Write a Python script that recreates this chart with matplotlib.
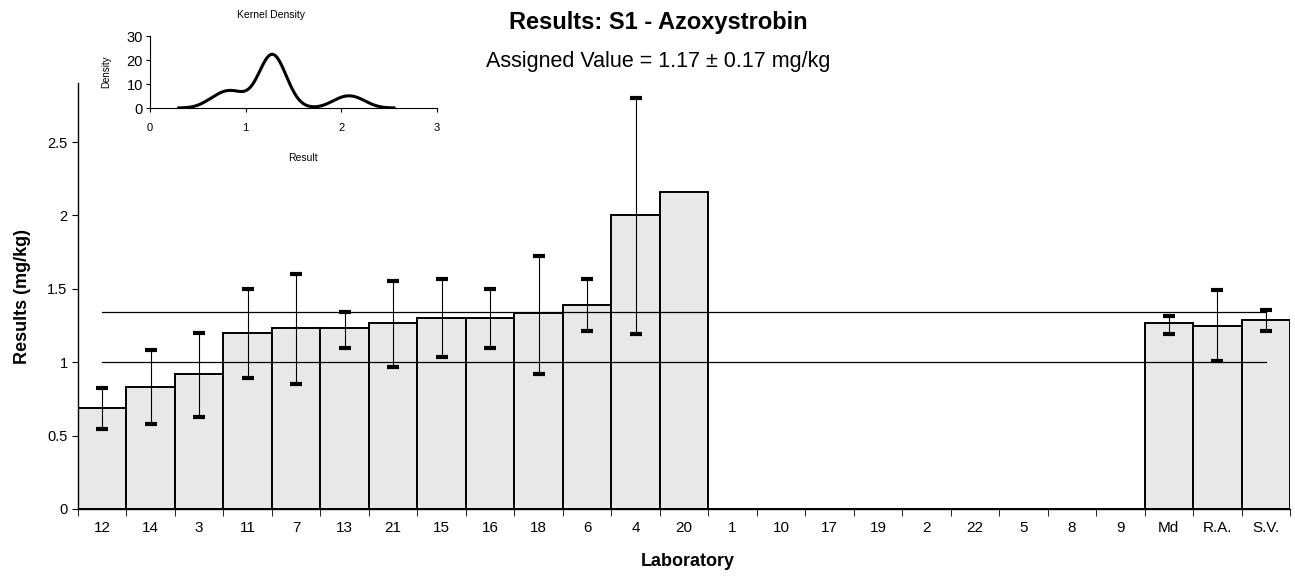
import numpy as np
import matplotlib.pyplot as plt

plt.rcParams["font.family"] = ["Liberation Sans", "DejaVu Sans"]

# ---- Data ----
labs = ["12", "14", "3", "11", "7", "13", "21", "15", "16", "18", "6", "4", "20",
        "1", "10", "17", "19", "2", "22", "5", "8", "9", "Md", "R.A.", "S.V."]
results = [0.69, 0.83, 0.92, 1.20, 1.23, 1.23, 1.265, 1.30, 1.30, 1.335, 1.39, 2.00, 2.16,
           np.nan, np.nan, np.nan, np.nan, np.nan, np.nan, np.nan, np.nan, np.nan,
           1.265, 1.25, 1.29]
err_low = [0.545, 0.58, 0.63, 0.895, 0.85, 1.10, 0.965, 1.035, 1.095, 0.92, 1.21, 1.19, np.nan,
           np.nan, np.nan, np.nan, np.nan, np.nan, np.nan, np.nan, np.nan, np.nan,
           1.195, 1.005, 1.21]
err_high = [0.825, 1.085, 1.20, 1.50, 1.60, 1.34, 1.55, 1.565, 1.50, 1.725, 1.565, 2.80, np.nan,
            np.nan, np.nan, np.nan, np.nan, np.nan, np.nan, np.nan, np.nan, np.nan,
            1.315, 1.49, 1.355]

assigned = 1.17
uncertainty = 0.17
n_labs = 13        # reported lab results used for the density estimate
bandwidth = 0.13   # kernel width for the density inset

fig = plt.figure(figsize=(12.95, 5.77), dpi=100)
ax = fig.add_axes([78 / 1295, 1 - 509 / 577, 1212 / 1295, 2.9 * 146.8 / 577])

x = np.arange(len(labs))
vals = np.array(results, dtype=float)
ax.bar(x, np.nan_to_num(vals), width=1.0, color="#e8e8e8", edgecolor="black",
       linewidth=1.4, zorder=2)

lo = np.array(err_low, dtype=float)
hi = np.array(err_high, dtype=float)
mask = ~np.isnan(lo)
ax.errorbar(x[mask], vals[mask], yerr=[vals[mask] - lo[mask], hi[mask] - vals[mask]],
            fmt="none", ecolor="black", elinewidth=0.8, capsize=4, capthick=3, zorder=4)

# assigned value +/- uncertainty limits
for level in (assigned - uncertainty, assigned + uncertainty):
    ax.plot([x[0], x[-1]], [level, level], color="black", linewidth=0.9, zorder=3)

ax.set_xlim(-0.5, len(labs) - 0.5)
ax.set_ylim(0, 2.9)
ax.set_yticks([0, 0.5, 1, 1.5, 2, 2.5])
ax.set_yticklabels(["0", "0.5", "1", "1.5", "2", "2.5"])
ax.set_xticks(x)
ax.set_xticklabels(labs, fontsize=11)
ax.set_xticks(np.arange(len(labs) + 1) - 0.5, minor=True)
ax.tick_params(axis="x", which="major", length=0, pad=9)
ax.tick_params(axis="x", which="minor", length=5, direction="out")
ax.tick_params(axis="y", labelsize=10.5, length=4, direction="out")
for s in ("top", "right"):
    ax.spines[s].set_visible(False)
ax.spines["left"].set_linewidth(1.0)
ax.spines["bottom"].set_linewidth(1.0)

ax.set_xlabel("Laboratory", fontsize=13, fontweight="bold")
ax.set_ylabel("Results (mg/kg)", fontsize=13, fontweight="bold", labelpad=12)
ax.xaxis.set_label_coords((688 - 78) / 1212, -0.104)

fig.text(658 / 1295, 1 - 22 / 577, "Results: S1 - Azoxystrobin", ha="center", va="center",
         fontsize=17, fontweight="bold")
fig.text(658 / 1295, 1 - 61 / 577, "Assigned Value = 1.17 \u00b1 0.17 mg/kg", ha="center",
         va="center", fontsize=15.5)

# ---- Kernel density inset ----
lab_vals = vals[:n_labs]
grid = np.linspace(lab_vals.min() - 3 * bandwidth, lab_vals.max() + 3 * bandwidth, 300)
dens = np.zeros_like(grid)
for v in lab_vals:
    dens += np.exp(-0.5 * ((grid - v) / bandwidth) ** 2) / (bandwidth * np.sqrt(2 * np.pi))

ins = fig.add_axes([150 / 1295, 1 - 108 / 577, 287 / 1295, 72 / 577])
ins.plot(grid, dens, color="black", linewidth=2.2)
ins.set_xlim(0, 3)
ins.set_ylim(0, 30)
ins.set_xticks([0, 1, 2, 3])
ins.set_yticks([0, 10, 20, 30])
ins.tick_params(axis="x", labelsize=8, length=3, direction="out", pad=8)
ins.tick_params(axis="y", labelsize=10.5, length=3, direction="out", pad=2)
for s in ("top", "right"):
    ins.spines[s].set_visible(False)
ins.text(0.42, 1 + 21 / 72, "Kernel Density", transform=ins.transAxes, ha="center",
         va="center", fontsize=7.5)
ins.text(0.533, -50 / 72, "Result", transform=ins.transAxes, ha="center",
         va="center", fontsize=7.5)
ins.set_ylabel("Density", fontsize=7, labelpad=11)

fig.savefig("out.png", dpi=100)
